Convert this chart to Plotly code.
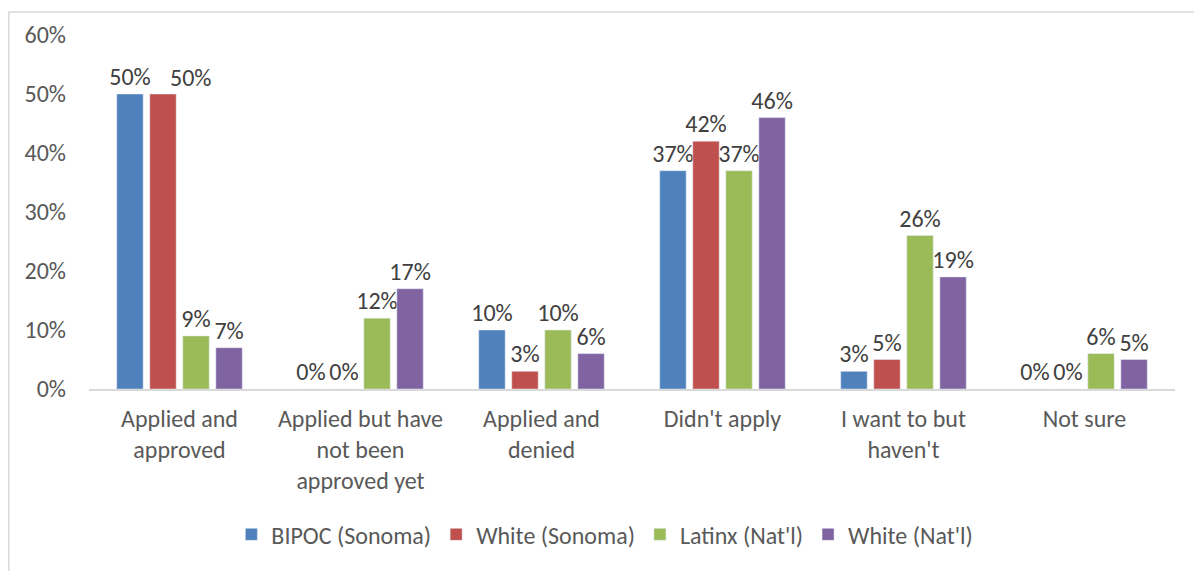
import plotly.graph_objects as go

categories = ["Applied and<br>approved", "Applied but have<br>not been<br>approved yet",
              "Applied and<br>denied", "Didn't apply", "I want to but<br>haven't", "Not sure"]
series_names = ["BIPOC (Sonoma)", "White (Sonoma)", "Latinx (Nat'l)", "White (Nat'l)"]
bipoc_sonoma = [0.50, 0.00, 0.10, 0.37, 0.03, 0.00]
white_sonoma = [0.50, 0.00, 0.03, 0.42, 0.05, 0.00]
latinx_natl = [0.09, 0.12, 0.10, 0.37, 0.26, 0.06]
white_natl = [0.07, 0.17, 0.06, 0.46, 0.19, 0.05]
colors = ["#4F81BD", "#C0504D", "#9BBB59", "#8064A2"]
y_ticks = [0, 0.1, 0.2, 0.3, 0.4, 0.5, 0.6]

FONT = "Carlito, Calibri, Lato, sans-serif"
TXT = "#595959"
LBL = "#404040"
FS = 24

# plot area in figure pixels (page has an 8px body margin)
L, T, R, B = 81, 24, 1167, 381
W, H = 1202, 571
PW, PH = R - L, B - T


def fmt(v):
    return f"{v*100:.0f}%"


fig = go.Figure()
all_vals = [bipoc_sonoma, white_sonoma, latinx_natl, white_natl]
for i, (name, vals, col) in enumerate(zip(series_names, all_vals, colors)):
    txt = [fmt(v) for v in vals]
    if i == 1:
        txt[0] = ""  # drawn as a nudged annotation below (as Excel did)
    fig.add_trace(go.Bar(
        x=categories, y=vals, name=name, marker_color=col,
        text=txt, textposition="outside",
        textfont=dict(family=FONT, size=FS, color=LBL),
        constraintext="none", cliponaxis=False,
    ))

fig.add_annotation(x=categories[0], y=white_sonoma[0], xref="x", yref="y",
                   text=fmt(white_sonoma[0]), showarrow=False,
                   xanchor="center", yanchor="bottom", xshift=11, yshift=0,
                   font=dict(family=FONT, size=FS, color=LBL))

fig.update_layout(
    width=W, height=H,
    margin=dict(l=L, r=W - R, t=T, b=H - B),
    paper_bgcolor="white", plot_bgcolor="white",
    barmode="group", bargap=0.27, bargroupgap=0.2,
    font=dict(family=FONT, size=FS, color=TXT),
    legend=dict(orientation="h", x=0.475, xanchor="center", y=(B - 528) / PH, yanchor="middle",
                font=dict(family=FONT, size=FS, color=TXT), itemwidth=30,
                traceorder="normal"),
    xaxis=dict(showline=True, linecolor="#D9D9D9", linewidth=2, ticks="",
               tickfont=dict(family=FONT, size=FS, color=TXT), ticklabelstandoff=7),
    yaxis=dict(range=[0, 0.6], tickvals=y_ticks, tickformat=".0%", showgrid=False,
               showline=False, zeroline=False, ticks="",
               tickfont=dict(family=FONT, size=FS, color=TXT), ticklabelstandoff=22),
    shapes=[
        dict(type="line", xref="paper", yref="paper",
             x0=(0.75 - L) / PW, x1=(W - L) / PW, y0=(B - 0.75) / PH, y1=(B - 0.75) / PH,
             line=dict(color="#D9D9D9", width=1.5)),
        dict(type="line", xref="paper", yref="paper",
             x0=(0.75 - L) / PW, x1=(0.75 - L) / PW, y0=(B - 0.75) / PH, y1=(B - H) / PH,
             line=dict(color="#D9D9D9", width=1.5)),
    ],
)

fig.write_html("out.html")
